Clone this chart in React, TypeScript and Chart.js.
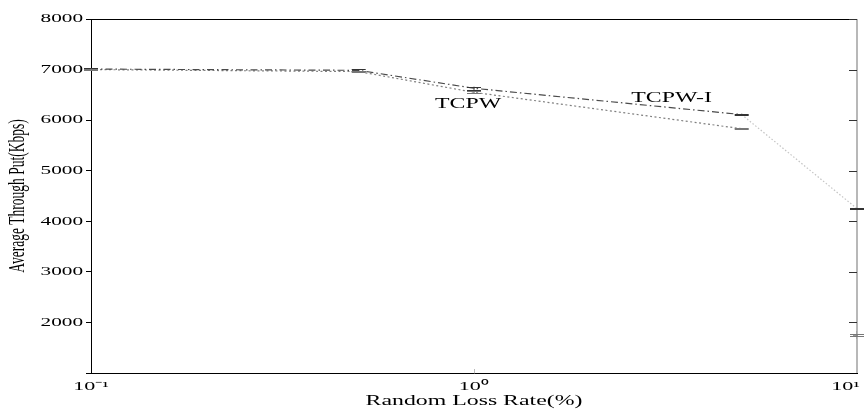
import React, { useEffect, useRef } from "react";
import { Chart, registerables } from "chart.js";

Chart.register(...registerables);

// ---- data ----
const lossRates = [0.1, 0.5, 1, 5, 10];
const tcpwI = [7010, 6985, 6630, 6110, 4250];
const tcpw = [7000, 6960, 6550, 5830, 1750];
const errTcpwI = [20, 20, 30, 15, 10];
const errTcpw = [15, 15, 20, 15, 20];
const seriesNames = ["TCPW-I", "TCPW"];
const xTickValues = [0.1, 1, 10];
const xTickLabels = ["10\u207B\u00B9", "10\u2070", "10\u00B9"];
const yTickValues = [2000, 3000, 4000, 5000, 6000, 7000, 8000];
// annotation anchors in data coordinates [x, y]
const labelTcpw = [0.965, 6310];
const labelTcpwI = [3.28, 6430];

const SERIF = "'Liberation Serif', 'Times New Roman', serif";
const SX = 1.7; // horizontal stretch of the original figure's text

function withTransform(scale: any, key: string, pre: (ctx: CanvasRenderingContext2D, s: any) => void) {
  if (!scale || scale["__w_" + key]) return;
  const orig = scale[key].bind(scale);
  scale[key] = (...args: any[]) => {
    const ctx = scale.ctx;
    ctx.save();
    pre(ctx, scale);
    orig(...args);
    ctx.restore();
  };
  scale["__w_" + key] = true;
}

function stretchText(ctx: CanvasRenderingContext2D, text: string, x: number, y: number, align: CanvasTextAlign) {
  ctx.save();
  ctx.translate(x, y);
  ctx.scale(SX, 1);
  ctx.textAlign = align;
  ctx.fillText(text, 0, 0);
  ctx.restore();
}

const decorPlugin = {
  id: "decor",
  beforeDraw(chart: any) {
    const { x, y } = chart.scales;
    // y tick labels: stretch horizontally about their right edge
    withTransform(y, "drawLabels", (ctx, s) => {
      const ax = s.right - 8;
      ctx.translate(ax, 0);
      ctx.scale(SX, 1);
      ctx.translate(-ax, 0);
    });
    // y title: stretch about its centre line
    withTransform(y, "drawTitle", (ctx, s) => {
      const ax = s.left + 18;
      ctx.translate(ax, 0);
      ctx.scale(SX, 1);
      ctx.translate(-ax, 0);
    });
    // x title: stretch about scale centre
    withTransform(x, "drawTitle", (ctx, s) => {
      const ax = (s.left + s.right) / 2;
      ctx.translate(ax, 0);
      ctx.scale(SX, 1);
      ctx.translate(-ax, 0);
    });
    // x tick labels: each label stretched around its own tick
    if (x && !x.__customLabels) {
      x.drawLabels = function () {
        const ctx = this.ctx;
        ctx.save();
        ctx.font = "13px " + SERIF;
        ctx.fillStyle = "#000";
        ctx.textBaseline = "top";
        const cw = this.chart.width;
        this.ticks.forEach((t: any, i: number) => {
          const lbl = t.label;
          if (!lbl) return;
          const px = this.getPixelForTick(i);
          const w = ctx.measureText(lbl).width * SX;
          let cx = px;
          if (cx + w / 2 > cw - 4) cx = cw - 4 - w / 2;
          stretchText(ctx, lbl, cx, this.top + 7, "center");
        });
        ctx.restore();
      };
      x.__customLabels = true;
    }
  },
  afterDatasetsDraw(chart: any) {
    const { ctx, chartArea: a, scales } = chart;
    const xs = scales.x;
    const ys = scales.y;
    ctx.save();
    // top frame line
    ctx.strokeStyle = "#000";
    ctx.lineWidth = 1;
    ctx.beginPath();
    ctx.moveTo(a.left, Math.round(a.top) + 0.5);
    ctx.lineTo(a.right - 6, Math.round(a.top) + 0.5);
    ctx.stroke();
    // right frame line
    ctx.strokeStyle = "#a0a0a0";
    ctx.lineWidth = 1.5;
    ctx.beginPath();
    ctx.moveTo(a.right, a.top);
    ctx.lineTo(a.right, a.bottom);
    ctx.stroke();
    // inward ticks on right
    ctx.strokeStyle = "#333";
    ctx.lineWidth = 1;
    yTickValues.forEach((v) => {
      const py = Math.round(ys.getPixelForValue(v)) + 0.5;
      ctx.beginPath();
      ctx.moveTo(a.right - 8, py);
      ctx.lineTo(a.right, py);
      ctx.stroke();
    });
    // inward x tick at 1
    ctx.strokeStyle = "#bbb";
    const px1 = Math.round(xs.getPixelForValue(1)) + 0.5;
    ctx.beginPath();
    ctx.moveTo(px1, a.bottom);
    ctx.lineTo(px1, a.bottom - 4);
    ctx.stroke();

    // error bars
    const drawErr = (vals: number[], errs: number[], color: string) => {
      ctx.strokeStyle = color;
      ctx.lineWidth = 1.2;
      vals.forEach((v, i) => {
        const px = xs.getPixelForValue(lossRates[i]);
        const top = ys.getPixelForValue(v + errs[i]);
        const bot = ys.getPixelForValue(v - errs[i]);
        ctx.beginPath();
        ctx.moveTo(px, top);
        ctx.lineTo(px, bot);
        ctx.moveTo(px - 7, Math.round(top) + 0.5);
        ctx.lineTo(px + 7, Math.round(top) + 0.5);
        ctx.moveTo(px - 7, Math.round(bot) + 0.5);
        ctx.lineTo(px + 7, Math.round(bot) + 0.5);
        ctx.stroke();
      });
    };
    drawErr(tcpwI, errTcpwI, "#333");
    drawErr(tcpw, errTcpw, "#777");

    // series labels
    ctx.fillStyle = "#000";
    ctx.font = "14px " + SERIF;
    ctx.textBaseline = "middle";
    stretchText(ctx, seriesNames[1], xs.getPixelForValue(labelTcpw[0]), ys.getPixelForValue(labelTcpw[1]), "center");
    stretchText(ctx, seriesNames[0], xs.getPixelForValue(labelTcpwI[0]), ys.getPixelForValue(labelTcpwI[1]), "center");
    ctx.restore();
  },
};

export default function App() {
  const ref = useRef<HTMLCanvasElement | null>(null);

  useEffect(() => {
    if (!ref.current) return;
    const lastIdx = lossRates.length - 2;
    const chart = new Chart(ref.current, {
      type: "line",
      data: {
        datasets: [
          {
            label: seriesNames[0],
            data: lossRates.map((x, i) => ({ x, y: tcpwI[i] })),
            borderColor: "#4a4a4a",
            borderWidth: 1.2,
            borderDash: [7, 3, 1.5, 3],
            pointRadius: (c: any) => (c.dataIndex === lossRates.length - 1 ? 4 : 0),
            pointStyle: "line",
            pointBorderColor: "#333",
            fill: false,
            segment: {
              borderColor: (c: any) => (c.p0DataIndex === lastIdx ? "#c4c4c4" : undefined),
              borderDash: (c: any) => (c.p0DataIndex === lastIdx ? [1.5, 2] : undefined),
            },
          },
          {
            label: seriesNames[1],
            data: lossRates.map((x, i) => ({ x, y: tcpw[i] })),
            borderColor: "#808080",
            borderWidth: 1.2,
            borderDash: [2, 2.5],
            pointRadius: (c: any) => (c.dataIndex === lossRates.length - 1 ? 4 : 0),
            pointStyle: "cross",
            pointBorderColor: "#777",
            fill: false,
            segment: {
              borderColor: (c: any) => (c.p0DataIndex === lastIdx ? "rgba(0,0,0,0)" : undefined),
            },
          },
        ],
      },
      options: {
        animation: false,
        responsive: true,
        maintainAspectRatio: false,
        layout: { padding: { left: 0, right: 7, top: 19, bottom: 0 } },
        plugins: {
          legend: { display: false },
          tooltip: { enabled: false },
        },
        scales: {
          x: {
            type: "logarithmic",
            min: 0.1,
            max: 10,
            afterBuildTicks: (s: any) => {
              s.ticks = xTickValues.map((v) => ({ value: v }));
            },
            afterFit: (s: any) => {
              s.height = 39;
              s.paddingLeft = 0;
              s.paddingRight = 0;
            },
            grid: { display: false },
            border: { display: true, color: "#000", width: 1 },
            ticks: {
              autoSkip: false,
              maxRotation: 0,
              padding: 4,
              color: "#000",
              font: { family: SERIF, size: 13 },
              callback: (v: any) => {
                const i = xTickValues.findIndex((t) => Math.abs(t - Number(v)) < 1e-9);
                return i >= 0 ? xTickLabels[i] : "";
              },
            },
            title: {
              display: true,
              text: "Random Loss Rate(%)",
              color: "#000",
              font: { family: SERIF, size: 14 },
              padding: { top: 0, bottom: 2 },
            },
          },
          y: {
            type: "linear",
            min: 1000,
            max: 8000,
            afterBuildTicks: (s: any) => {
              s.ticks = [1000, ...yTickValues].map((v) => ({ value: v }));
            },
            afterFit: (s: any) => {
              s.width = 91;
              s.paddingTop = 0;
              s.paddingBottom = 0;
            },
            grid: {
              display: true,
              drawOnChartArea: false,
              drawTicks: true,
              tickLength: 5,
              color: "#000",
            },
            border: { display: true, color: "#000", width: 1 },
            ticks: {
              padding: 3,
              color: "#000",
              font: { family: SERIF, size: 12.5 },
              callback: (v: any) => (yTickValues.includes(Number(v)) ? String(v) : ""),
            },
            title: {
              display: true,
              text: "Average Through Put(Kbps)",
              color: "#000",
              font: { family: SERIF, size: 13.5 },
              padding: { top: 10, bottom: 0 },
            },
          },
        },
      },
      plugins: [decorPlugin],
    } as any);
    return () => chart.destroy();
  }, []);

  return (
    <div style={{ position: "fixed", left: 0, top: 0, width: 864, height: 412, background: "#fff" }}>
      <canvas ref={ref} />
    </div>
  );
}
